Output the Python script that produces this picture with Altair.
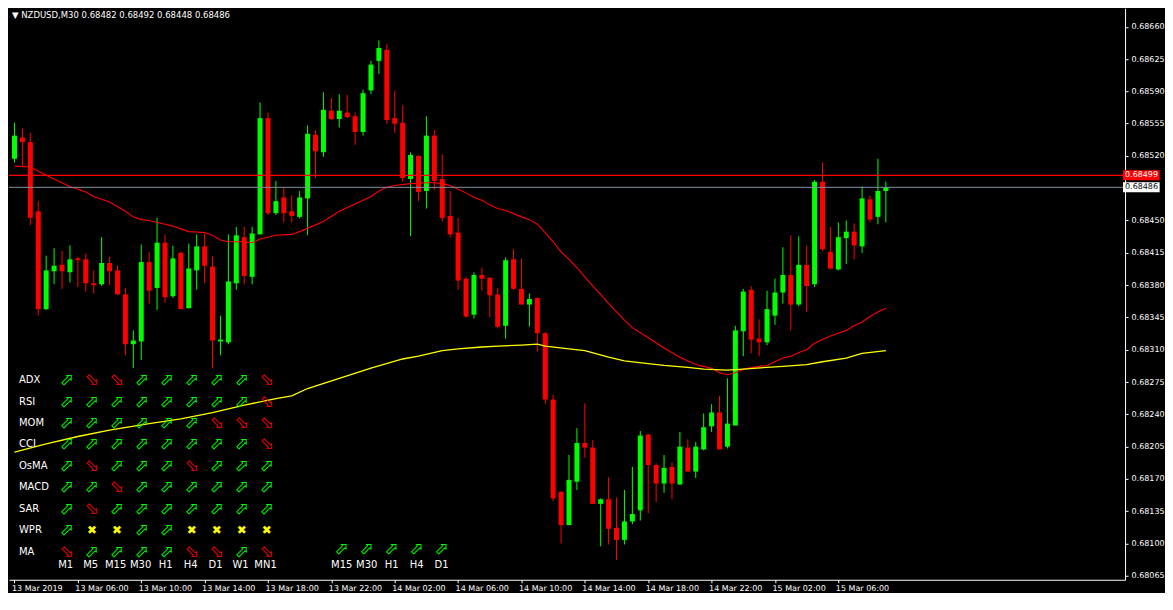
import altair as alt
import pandas as pd

# ---------------- data ----------------
header_text = "▼  NZDUSD,M30  0.68482 0.68492 0.68448 0.68486"

bar_open = [
    0.68517, 0.68540, 0.68535, 0.68460, 0.68354, 0.68395, 0.68402, 0.68394, 0.68409, 0.68408,
    0.68382, 0.68381, 0.68404, 0.68396, 0.68370, 0.68316, 0.68319, 0.68405, 0.68377, 0.68426,
    0.68368, 0.68415, 0.68355, 0.68396, 0.68422, 0.68400, 0.68319, 0.68318, 0.68382, 0.68432,
    0.68389, 0.68435, 0.68561, 0.68458, 0.68475, 0.68460, 0.68454, 0.68474, 0.68543, 0.68524,
    0.68569, 0.68560, 0.68567, 0.68563, 0.68546, 0.68591, 0.68623, 0.68635, 0.68561, 0.68556,
    0.68495, 0.68520, 0.68482, 0.68542, 0.68495, 0.68455, 0.68437, 0.68387, 0.68348, 0.68391,
    0.68388, 0.68370, 0.68336, 0.68408, 0.68376, 0.68359, 0.68366, 0.68328, 0.68256, 0.68156,
    0.68120, 0.68167, 0.68209, 0.68204, 0.68143, 0.68148, 0.68117, 0.68104, 0.68124, 0.68136,
    0.68218, 0.68185, 0.68165, 0.68183, 0.68164, 0.68204, 0.68178, 0.68202, 0.68227, 0.68242,
    0.68205, 0.68228, 0.68330, 0.68375, 0.68322, 0.68318, 0.68347, 0.68372, 0.68391, 0.68359,
    0.68402, 0.68381, 0.68492, 0.68416, 0.68397, 0.68431, 0.68438, 0.68422, 0.68473, 0.68454,
    0.68482,
]
bar_high = [
    0.68556, 0.68550, 0.68545, 0.68471, 0.68412, 0.68420, 0.68417, 0.68423, 0.68411, 0.68414,
    0.68396, 0.68432, 0.68411, 0.68401, 0.68377, 0.68331, 0.68424, 0.68416, 0.68453, 0.68435,
    0.68423, 0.68416, 0.68425, 0.68435, 0.68436, 0.68411, 0.68347, 0.68435, 0.68443, 0.68443,
    0.68443, 0.68578, 0.68567, 0.68493, 0.68485, 0.68477, 0.68482, 0.68553, 0.68548, 0.68589,
    0.68583, 0.68587, 0.68586, 0.68567, 0.68592, 0.68623, 0.68645, 0.68641, 0.68591, 0.68575,
    0.68524, 0.68521, 0.68563, 0.68548, 0.68522, 0.68482, 0.68453, 0.68389, 0.68394, 0.68399,
    0.68389, 0.68377, 0.68410, 0.68419, 0.68409, 0.68371, 0.68367, 0.68329, 0.68261, 0.68157,
    0.68196, 0.68225, 0.68252, 0.68212, 0.68149, 0.68172, 0.68150, 0.68158, 0.68183, 0.68222,
    0.68219, 0.68187, 0.68196, 0.68188, 0.68221, 0.68213, 0.68210, 0.68241, 0.68251, 0.68260,
    0.68279, 0.68336, 0.68376, 0.68379, 0.68343, 0.68374, 0.68387, 0.68421, 0.68434, 0.68433,
    0.68423, 0.68494, 0.68513, 0.68443, 0.68448, 0.68450, 0.68447, 0.68487, 0.68477, 0.68517,
    0.68492,
]
bar_low = [
    0.68513, 0.68509, 0.68445, 0.68347, 0.68353, 0.68381, 0.68376, 0.68383, 0.68378, 0.68373,
    0.68371, 0.68379, 0.68380, 0.68369, 0.68304, 0.68290, 0.68299, 0.68360, 0.68353, 0.68361,
    0.68366, 0.68354, 0.68355, 0.68375, 0.68382, 0.68290, 0.68304, 0.68316, 0.68375, 0.68381,
    0.68381, 0.68435, 0.68456, 0.68456, 0.68448, 0.68448, 0.68452, 0.68434, 0.68496, 0.68519,
    0.68559, 0.68551, 0.68561, 0.68532, 0.68542, 0.68587, 0.68609, 0.68555, 0.68545, 0.68492,
    0.68433, 0.68471, 0.68463, 0.68483, 0.68449, 0.68432, 0.68375, 0.68345, 0.68344, 0.68374,
    0.68345, 0.68333, 0.68322, 0.68375, 0.68359, 0.68335, 0.68308, 0.68251, 0.68146, 0.68100,
    0.68120, 0.68158, 0.68193, 0.68143, 0.68097, 0.68099, 0.68082, 0.68099, 0.68121, 0.68125,
    0.68133, 0.68145, 0.68155, 0.68148, 0.68164, 0.68178, 0.68171, 0.68201, 0.68221, 0.68202,
    0.68203, 0.68228, 0.68303, 0.68306, 0.68303, 0.68315, 0.68337, 0.68360, 0.68331, 0.68357,
    0.68351, 0.68378, 0.68417, 0.68397, 0.68396, 0.68403, 0.68408, 0.68415, 0.68448, 0.68446,
    0.68448,
]
bar_close = [
    0.68542, 0.68535, 0.68453, 0.68354, 0.68396, 0.68401, 0.68395, 0.68408, 0.68407, 0.68382,
    0.68380, 0.68404, 0.68395, 0.68370, 0.68316, 0.68320, 0.68405, 0.68374, 0.68426, 0.68367,
    0.68409, 0.68354, 0.68398, 0.68422, 0.68401, 0.68320, 0.68321, 0.68384, 0.68434, 0.68390,
    0.68436, 0.68561, 0.68458, 0.68471, 0.68458, 0.68455, 0.68475, 0.68544, 0.68525, 0.68570,
    0.68560, 0.68569, 0.68562, 0.68546, 0.68588, 0.68619, 0.68637, 0.68559, 0.68555, 0.68496,
    0.68521, 0.68481, 0.68542, 0.68493, 0.68453, 0.68435, 0.68385, 0.68346, 0.68391, 0.68387,
    0.68369, 0.68335, 0.68407, 0.68376, 0.68359, 0.68365, 0.68328, 0.68256, 0.68149, 0.68120,
    0.68169, 0.68209, 0.68204, 0.68143, 0.68148, 0.68116, 0.68104, 0.68124, 0.68132, 0.68217,
    0.68185, 0.68165, 0.68182, 0.68165, 0.68205, 0.68178, 0.68205, 0.68226, 0.68242, 0.68202,
    0.68230, 0.68331, 0.68373, 0.68321, 0.68318, 0.68354, 0.68372, 0.68391, 0.68359, 0.68402,
    0.68379, 0.68492, 0.68419, 0.68398, 0.68432, 0.68438, 0.68423, 0.68474, 0.68451, 0.68482,
    0.68486,
]

# red moving average (bar index -> value)
ma_red_bar = [0, 2, 4, 5, 6, 7, 9, 10, 11, 12, 14, 15, 16, 17, 19, 20, 21, 22, 24, 25,
              26, 27, 29, 30, 31, 32, 33, 35, 36, 39, 41, 43, 45, 46, 47, 48, 50, 52, 53, 54,
              55, 56, 57, 58, 59, 60, 61, 62, 64, 65, 66, 67, 68, 69, 70, 71, 72, 73, 74, 75,
              76, 77, 78, 80, 82, 84, 86, 87, 88, 89, 90, 91, 92, 94, 95, 96, 97, 98, 99, 100,
              101, 102, 103, 104, 105, 106, 107, 108, 109, 110]
ma_red_val = [0.68509, 0.68508, 0.68499, 0.68495, 0.68491, 0.68487, 0.68481, 0.68476, 0.68473, 0.68470,
              0.68460, 0.68454, 0.68451, 0.68450, 0.68446, 0.68444, 0.68441, 0.68438, 0.68437, 0.68434,
              0.68429, 0.68427, 0.68427, 0.68426, 0.68430, 0.68432, 0.68434, 0.68435, 0.68438, 0.68449,
              0.68460, 0.68468, 0.68476, 0.68482, 0.68486, 0.68488, 0.68490, 0.68491, 0.68491, 0.68490,
              0.68488, 0.68484, 0.68480, 0.68475, 0.68472, 0.68467, 0.68463, 0.68461, 0.68454, 0.68451,
              0.68446, 0.68437, 0.68427, 0.68416, 0.68408, 0.68399, 0.68389, 0.68379, 0.68370, 0.68360,
              0.68351, 0.68342, 0.68334, 0.68323, 0.68312, 0.68302, 0.68294, 0.68292, 0.68290, 0.68285,
              0.68283, 0.68285, 0.68289, 0.68292, 0.68293, 0.68297, 0.68301, 0.68303, 0.68307, 0.68310,
              0.68317, 0.68321, 0.68325, 0.68328, 0.68331, 0.68336, 0.68340, 0.68346, 0.68351, 0.68355]

# yellow moving average (bar index -> value)
ma_yel_bar = [0, 4, 8, 12, 17, 21, 25, 29, 33, 35, 37, 41, 45, 49, 51, 54, 56, 59, 61, 64,
              66, 67, 70, 72, 75, 77, 80, 82, 85, 87, 90, 92, 95, 97, 100, 102, 105, 107, 110]
ma_yel_val = [0.68199, 0.68208, 0.68216, 0.68223, 0.68230, 0.68235, 0.68242, 0.68250, 0.68257, 0.68260,
              0.68268, 0.68279, 0.68290, 0.68300, 0.68303, 0.68309, 0.68311, 0.68313, 0.68314, 0.68315,
              0.68316, 0.68314, 0.68311, 0.68309, 0.68302, 0.68298, 0.68295, 0.68293, 0.68291, 0.68289,
              0.68288, 0.68289, 0.68291, 0.68292, 0.68294, 0.68297, 0.68301, 0.68306, 0.68309]

ask_line = 0.68499
bid_line = 0.68486

time_tick_bars = [0, 8, 16, 24, 32, 40, 48, 56, 64, 72, 80, 88, 96, 104]
time_tick_labels = ["13 Mar 2019", "13 Mar 06:00", "13 Mar 10:00", "13 Mar 14:00", "13 Mar 18:00",
                    "13 Mar 22:00", "14 Mar 02:00", "14 Mar 06:00", "14 Mar 10:00", "14 Mar 14:00",
                    "14 Mar 18:00", "14 Mar 22:00", "15 Mar 02:00", "15 Mar 06:00"]
price_ticks = [0.68065, 0.68100, 0.68135, 0.68170, 0.68205, 0.68240, 0.68275, 0.68310, 0.68345,
               0.68380, 0.68415, 0.68450, 0.68520, 0.68555, 0.68590, 0.68625, 0.68660]

# signal matrix (U = up, D = down, X = neutral)
sig_rows = ["ADX", "RSI", "MOM", "CCI", "OsMA", "MACD", "SAR", "WPR", "MA"]
sig_cols = ["M1", "M5", "M15", "M30", "H1", "H4", "D1", "W1", "MN1"]
sig_matrix = ["UDDUUUUUD", "UUUUUUUUD", "UUUUUUDDD", "UUUUUUUUD", "UDUUUDUUU",
              "UUDUUUUUU", "UDUUUUUUU", "UXXUUXXXX", "DUUUUDDUD"]
sig2_cols = ["M15", "M30", "H1", "H4", "D1"]
sig2_values = "UUUUU"

# ---------------- layout / style ----------------
W, H = 1117, 572
FONT = "DejaVu Sans"
GREEN, RED, YELLOW, WHITE = "#00FF00", "#FF0000", "#FFFF00", "#FFFFFF"

x_scale = alt.Scale(domain=[-0.0625, (W - 0.5) / 8], nice=False, zero=False)
y_scale = alt.Scale(domain=[0.6806078, 0.6868004], nice=False, zero=False)

label_js = "[" + ",".join("'" + s + "'" for s in time_tick_labels) + "]"
x_axis = alt.Axis(values=time_tick_bars, labelExpr=label_js + "[round(datum.value / 8)]",
                  labelAlign="left", labelFlush=False, labelOverlap=False, labelBound=False,
                  tickSize=3, labelPadding=2, labelBaseline="top", title=None, grid=False,
                  domainColor=WHITE, tickColor=WHITE, labelColor=WHITE,
                  labelFont=FONT, labelFontSize=8, labelOffset=-3)
y_axis = alt.Axis(orient="right", values=price_ticks, format=".5f", tickSize=3, labelPadding=3,
                  title=None, grid=False, domainColor=WHITE, tickColor=WHITE, labelColor=WHITE,
                  labelFont=FONT, labelFontSize=8, labelOverlap=False, labelFlush=False,
                  labelSeparation=0)

candles = pd.DataFrame({"bar": list(range(len(bar_open))), "open": bar_open,
                        "high": bar_high, "low": bar_low, "close": bar_close})
candle_color = alt.condition(alt.datum.close >= alt.datum.open, alt.value(GREEN), alt.value(RED))

wicks = alt.Chart(candles).mark_rule(strokeWidth=1).encode(
    x=alt.X("bar:Q", scale=x_scale, axis=x_axis),
    y=alt.Y("low:Q", scale=y_scale, axis=y_axis),
    y2="high:Q",
    color=candle_color,
)
bodies = alt.Chart(candles).mark_bar(size=5, strokeWidth=0, opacity=1).encode(
    x=alt.X("bar:Q", scale=x_scale, axis=x_axis),
    y=alt.Y("open:Q", scale=y_scale, axis=y_axis),
    y2="close:Q", color=candle_color,
)

ma_red = alt.Chart(pd.DataFrame({"bar": ma_red_bar, "v": ma_red_val})).mark_line(
    color=RED, strokeWidth=1.1, interpolate="linear").encode(
    x=alt.X("bar:Q", scale=x_scale, axis=x_axis), y=alt.Y("v:Q", scale=y_scale, axis=y_axis))
ma_yel = alt.Chart(pd.DataFrame({"bar": ma_yel_bar, "v": ma_yel_val})).mark_line(
    color=YELLOW, strokeWidth=1.3, interpolate="linear").encode(
    x=alt.X("bar:Q", scale=x_scale, axis=x_axis), y=alt.Y("v:Q", scale=y_scale, axis=y_axis))

ask_rule = alt.Chart(pd.DataFrame({"p": [ask_line]})).mark_rule(color=RED, strokeWidth=1.4).encode(
    y=alt.Y("p:Q", scale=y_scale, axis=y_axis))
bid_rule = alt.Chart(pd.DataFrame({"p": [bid_line]})).mark_rule(color="#8292A2", strokeWidth=1).encode(
    y=alt.Y("p:Q", scale=y_scale, axis=y_axis))

# price tags on the right axis
tags = pd.DataFrame({"p": [ask_line, bid_line], "fill": [RED, WHITE], "ink": ["#FFFFFF", "#000000"]})
BOX_X0, BOX_X1 = (W + 3 - 0.5) / 8, (W + 40 - 0.5) / 8
tag_box = alt.Chart(tags).transform_calculate(lo="datum.p - 0.000054", hi="datum.p + 0.000054").mark_rect(
    strokeWidth=0).encode(x=alt.datum(BOX_X0), x2=alt.datum(BOX_X1),
                          y=alt.Y("lo:Q", scale=y_scale, axis=y_axis), y2="hi:Q",
                          color=alt.Color("fill:N", scale=None))
tag_txt = alt.Chart(tags).mark_text(font=FONT, fontSize=8, align="left", baseline="middle", dx=2).encode(
    x=alt.datum(BOX_X0), y=alt.Y("p:Q", scale=y_scale, axis=y_axis),
    text=alt.Text("p:Q", format=".5f"), color=alt.Color("ink:N", scale=None))

main = alt.layer(wicks, bodies, ma_red, ma_yel, ask_rule, bid_rule, tag_box, tag_txt)

# ---------------- signal panel (own index scales) ----------------
sym = {"U": ("⬀", GREEN, 17), "D": ("⬂", RED, 17), "X": ("✖", YELLOW, 12)}
left_rows, center_rows = [], []
left_rows.append({"c": -2.2, "r": -17.05, "t": header_text, "clr": WHITE, "fs": 8.5})
for ri, name in enumerate(sig_rows):
    left_rows.append({"c": -1.92, "r": ri, "t": name, "clr": WHITE, "fs": 10})
    for ci, s in enumerate(sig_matrix[ri]):
        g, clr, fs = sym[s]
        center_rows.append({"c": ci, "r": ri, "t": g, "clr": clr, "fs": fs})
for ci, name in enumerate(sig_cols):
    center_rows.append({"c": ci - 0.05, "r": 8.64, "t": name, "clr": WHITE, "fs": 10})
for j, name in enumerate(sig2_cols):
    g, clr, fs = sym[sig2_values[j]]
    center_rows.append({"c": 11 + j, "r": 7.88, "t": g, "clr": clr, "fs": fs})
    center_rows.append({"c": 11 + j, "r": 8.64, "t": name, "clr": WHITE, "fs": 10})

px = alt.Scale(domain=[-2.32, (W - 58) / 25], nice=False, zero=False)
py = alt.Scale(domain=[-382 / 22, (587 - 382) / 22], reverse=True, nice=False, zero=False)

panel_left = alt.Chart(pd.DataFrame(left_rows)).mark_text(font=FONT, align="left", baseline="middle").encode(
    x=alt.X("c:Q", scale=px, axis=None), y=alt.Y("r:Q", scale=py, axis=None),
    text="t:N", color=alt.Color("clr:N", scale=None), size=alt.Size("fs:Q", scale=None))
panel_center = alt.Chart(pd.DataFrame(center_rows)).mark_text(font=FONT, align="center", baseline="middle").encode(
    x=alt.X("c:Q", scale=px, axis=None), y=alt.Y("r:Q", scale=py, axis=None),
    text="t:N", color=alt.Color("clr:N", scale=None), size=alt.Size("fs:Q", scale=None))
panel = alt.layer(panel_left, panel_center)

chart = alt.layer(main, panel).resolve_scale(x="independent", y="independent").properties(
    width=W, height=H, padding=0, background="#000000"
).configure_view(stroke=None).configure_axis(labelOverlap=False, labelSeparation=0)

chart.save("out.html", embed_options={"renderer": "svg", "actions": False})
